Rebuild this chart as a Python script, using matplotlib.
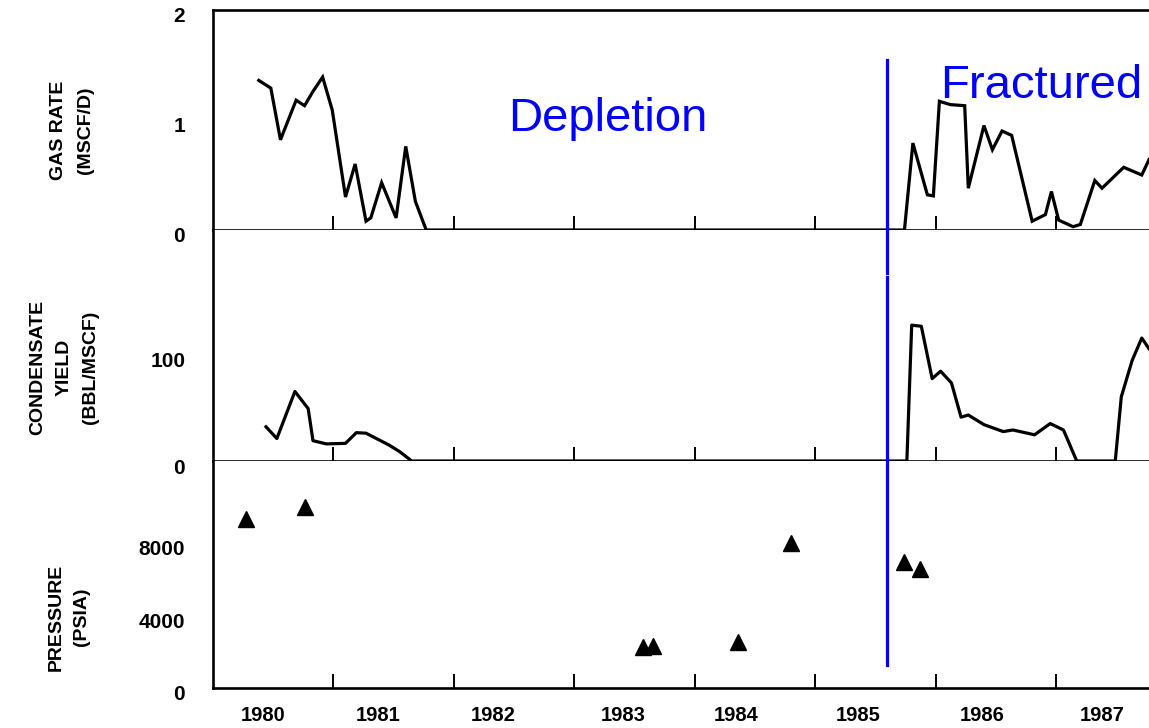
import matplotlib
matplotlib.use("Agg")
import matplotlib.pyplot as plt
from matplotlib.lines import Line2D
from matplotlib.transforms import blended_transform_factory, ScaledTranslation

# ---- data (decimal years) ----
gas_t = [1980.38, 1980.48, 1980.56, 1980.69, 1980.76, 1980.83, 1980.91, 1980.99,
         1981.10, 1981.18, 1981.27, 1981.31, 1981.40, 1981.52, 1981.60, 1981.68,
         1981.77, 1985.74, 1985.81, 1985.93, 1985.98, 1986.03, 1986.12, 1986.24,
         1986.27, 1986.40, 1986.47, 1986.55, 1986.63, 1986.80, 1986.91, 1986.96,
         1987.02, 1987.14, 1987.20, 1987.32, 1987.38, 1987.56, 1987.71, 1987.77]
gas_rate = [1.36, 1.29, 0.82, 1.18, 1.13, 1.26, 1.39, 1.09,
            0.30, 0.60, 0.08, 0.11, 0.43, 0.11, 0.76, 0.26,
            0.0, 0.0, 0.79, 0.32, 0.31, 1.17, 1.14, 1.13,
            0.38, 0.95, 0.73, 0.90, 0.86, 0.08, 0.14, 0.35,
            0.09, 0.03, 0.05, 0.45, 0.38, 0.57, 0.50, 0.64]

cond_t = [1980.44, 1980.53, 1980.68, 1980.79, 1980.83, 1980.94, 1981.10, 1981.19,
          1981.27, 1981.46, 1981.55, 1981.65, 1985.76, 1985.80, 1985.88, 1985.97,
          1986.04, 1986.13, 1986.21, 1986.27, 1986.40, 1986.56, 1986.64, 1986.82,
          1986.95, 1987.06, 1987.17, 1987.49, 1987.54, 1987.63, 1987.71, 1987.77]
cond_yield = [32, 21, 65, 49, 19, 16, 16.5, 26.5,
              26, 15, 8.7, 0, 0, 127, 126, 77,
              84, 73, 41, 43, 34, 27.5, 29, 24.5,
              35, 29, 0, 0, 60, 94, 115, 105]

pres_t = [1980.27, 1980.76, 1983.57, 1983.65, 1984.36, 1984.80, 1985.74, 1985.87]
pressure = [9270, 9930, 2250, 2310, 2530, 7970, 6940, 6540]

year_ticks = [1981, 1982, 1983, 1984, 1985, 1986, 1987]
year_label_pos = [1980.415, 1981.37, 1982.325, 1983.404, 1984.342, 1985.354, 1986.384, 1987.38]
year_labels = ["1980", "1981", "1982", "1983", "1984", "1985", "1986", "1987"]

boundary_year = 1985.595

# ---- figure ----
W, H = 1149, 728
fig = plt.figure(figsize=(W / 100, H / 100), dpi=100)
plt.rcParams["font.family"] = ["Liberation Sans", "DejaVu Sans"]

left = 213 / W
width = 1 - left

def frac_rect(y_top, y_bot):
    return [left, 1 - y_bot / H, width, (y_bot - y_top) / H]

ax1 = fig.add_axes(frac_rect(10, 230))
ax2 = fig.add_axes(frac_rect(230, 461))
ax3 = fig.add_axes(frac_rect(461, 688))

xlim = (1980.0, 1987.77)
lw_data = 2.3
tick_font = dict(fontsize=15, fontweight="bold")

for ax in (ax1, ax2, ax3):
    ax.set_xlim(*xlim)
    ax.spines["right"].set_visible(False)
    for s in ("left", "top", "bottom"):
        ax.spines[s].set_linewidth(1.9)
    ax.set_xticks(year_ticks)
    ax.tick_params(axis="x", which="major", direction="in", length=10, width=1.4,
                   labelbottom=False)
    ax.tick_params(axis="y", length=0, pad=20)

# gas rate
ax1.plot(gas_t, gas_rate, color="black", lw=lw_data, solid_joinstyle="miter")
ax1.set_ylim(0, 2)
ax1.set_yticks([0, 1, 2])
ax1.set_yticklabels(["0", "1", "2"], **tick_font)

# condensate yield
ax2.plot(cond_t, cond_yield, color="black", lw=lw_data)
ax2.set_ylim(0, 216)
ax2.set_yticks([0, 100])
ax2.set_yticklabels(["0", "100"], **tick_font)
ax2.spines["top"].set_visible(False)

# pressure
ax3.plot(pres_t, pressure, linestyle="none", marker="^", markersize=11,
         color="black")
ax3.set_ylim(0, 12470)
ax3.set_yticks([0, 4000, 8000])
ax3.set_yticklabels(["0", "4000", "8000"], **tick_font)
ax3.spines["top"].set_visible(False)
ax3.set_xticks(year_label_pos, minor=True)
ax3.set_xticklabels(year_labels, minor=True, fontsize=14.5, fontweight="bold")
ax3.tick_params(axis="x", which="minor", length=0, pad=13)

# shift y tick labels slightly downward
shift = ScaledTranslation(0, -5 / 100, fig.dpi_scale_trans)
for ax in (ax1, ax2, ax3):
    for lab in ax.get_yticklabels():
        lab.set_transform(lab.get_transform() + shift)

# axis titles
lab_font = dict(fontsize=14, fontweight="bold", rotation=90, ha="center",
                va="center", multialignment="center")
ax1.text(-0.151, 0.455, "GAS RATE\n(MSCF/D)", transform=ax1.transAxes,
         linespacing=1.75, **lab_font)
ax2.text(-0.159, 0.407, "CONDENSATE\nYIELD\n(BBL/MSCF)", transform=ax2.transAxes,
         linespacing=1.75, **lab_font)
ax3.text(-0.154, 0.313, "PRESSURE\n(PSIA)", transform=ax3.transAxes,
         linespacing=1.6, **lab_font)

# regime annotations
blue = "#0000FF"
ax1.text(0.3152, 0.45, "Depletion", transform=ax1.transAxes, color=blue,
         fontsize=34, ha="left", va="baseline")
ax1.text(0.7767, 0.60, "Fractured", transform=ax1.transAxes, color=blue,
         fontsize=34, ha="left", va="baseline", clip_on=False)

trans = blended_transform_factory(ax3.transData, fig.transFigure)
for y0, y1 in ((1 - 60 / H, 1 - 273 / H), (1 - 277 / H, 1 - 665 / H)):
    fig.add_artist(Line2D([boundary_year, boundary_year], [y0, y1],
                          transform=trans, color=blue, lw=2.3))

fig.savefig("out.png", dpi=100)
